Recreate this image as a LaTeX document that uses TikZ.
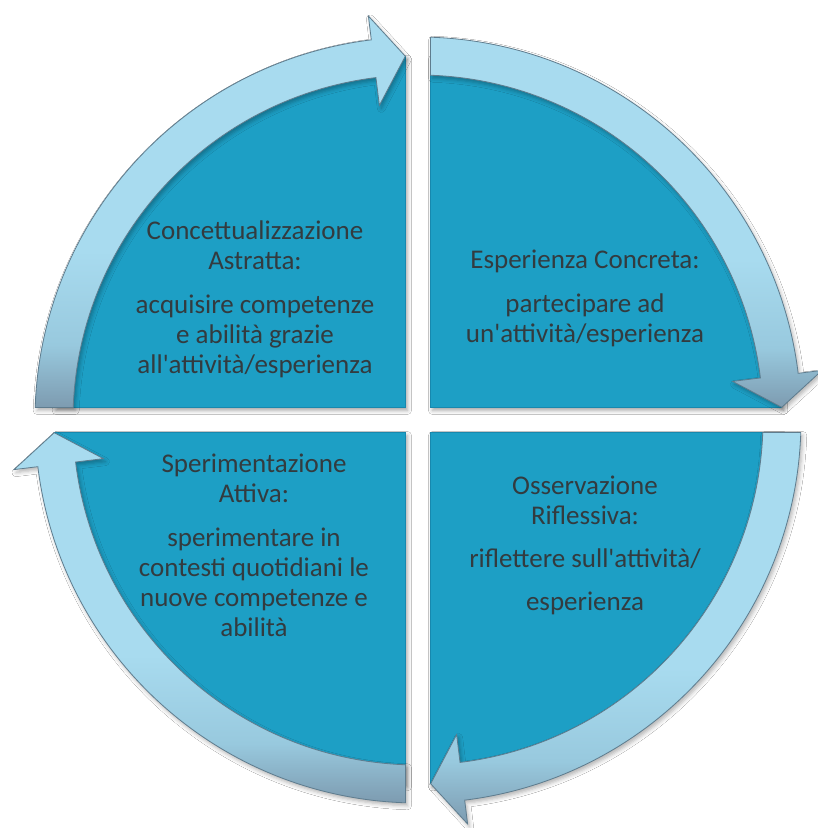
\documentclass[tikz,border=0pt]{standalone}
\usepackage{fontspec}
\setmainfont{Carlito}[Ligatures=TeXOff]
\usetikzlibrary{shadows.blur}
\definecolor{sectorfill}{HTML}{1D9FC5}
\definecolor{sectoredge}{HTML}{1788AE}
\definecolor{arrlight}{HTML}{A8DBEF}
\definecolor{arrmid}{HTML}{98C9DE}
\definecolor{arrdark}{HTML}{7D9BB0}
\definecolor{arredge}{HTML}{5E7C8E}
\definecolor{txtcol}{HTML}{333B3F}
\pgfdeclareverticalshading{arrowshade}{100bp}{color(0bp)=(arrdark); color(25bp)=(arrdark); color(33bp)=(arrmid); color(45bp)=(arrlight); color(75bp)=(arrlight); color(100bp)=(arrlight)}
\begin{document}
\begin{tikzpicture}[
  sector/.style={fill=sectorfill, draw=sectoredge, line width=0.6pt,
    blur shadow={shadow xshift=2pt, shadow yshift=-3pt, shadow opacity=35, shadow blur radius=4pt}},
  cyclearrow/.style={shading=arrowshade, draw=arredge, line width=0.8pt, line join=miter,
    blur shadow={shadow xshift=2pt, shadow yshift=-3pt, shadow opacity=30, shadow blur radius=4pt}},
  quadtext/.style={align=center, text=txtcol, font=\fontsize{27}{30}\selectfont}
]
\useasboundingbox (-418pt,-408pt) rectangle (400pt,420pt);
\fill[white] (-418pt,-408pt) rectangle (400pt,420pt);
% quadrant sectors
\foreach \o in {0,-90,-180,-270}{
  \path[sector] ({135+\o}:17.68pt) -- ({91.97+\o}:364pt)
    arc[start angle={91.97+\o}, end angle={178.03+\o}, radius=364pt] -- cycle;
}
% cycle arrows
\foreach \o in {0,-90,-180,-270}{
  \path[cyclearrow] ({177.92+\o}:345pt) -- ({178.13+\o}:383pt)
    arc[start angle={178.13+\o}, end angle={97+\o}, radius=383pt]
    -- ({97+\o}:407pt) -- ({92+\o}:364pt) -- ({97+\o}:317pt) -- ({97+\o}:345pt)
    arc[start angle={97+\o}, end angle={177.92+\o}, radius=345pt] -- cycle;
}
\node[quadtext] (tl) at (-163pt,121pt) {Concettualizzazione\\Astratta:\\[14pt]acquisire competenze\\e abilità grazie\\all'attività/esperienza};
\node[quadtext] (tr) at (167pt,122pt) {Esperienza Concreta:\\[14pt]partecipare ad\\un'attività/esperienza};
\node[quadtext] (bl) at (-164pt,-125pt) {Sperimentazione\\Attiva:\\[14pt]sperimentare in\\contesti quotidiani le\\nuove competenze e\\abilità};
\node[quadtext] (br) at (167pt,-125pt) {Osservazione\\Riflessiva:\\[13pt]riflettere sull'attività/\\[13pt]esperienza};
\end{tikzpicture}
\end{document}
